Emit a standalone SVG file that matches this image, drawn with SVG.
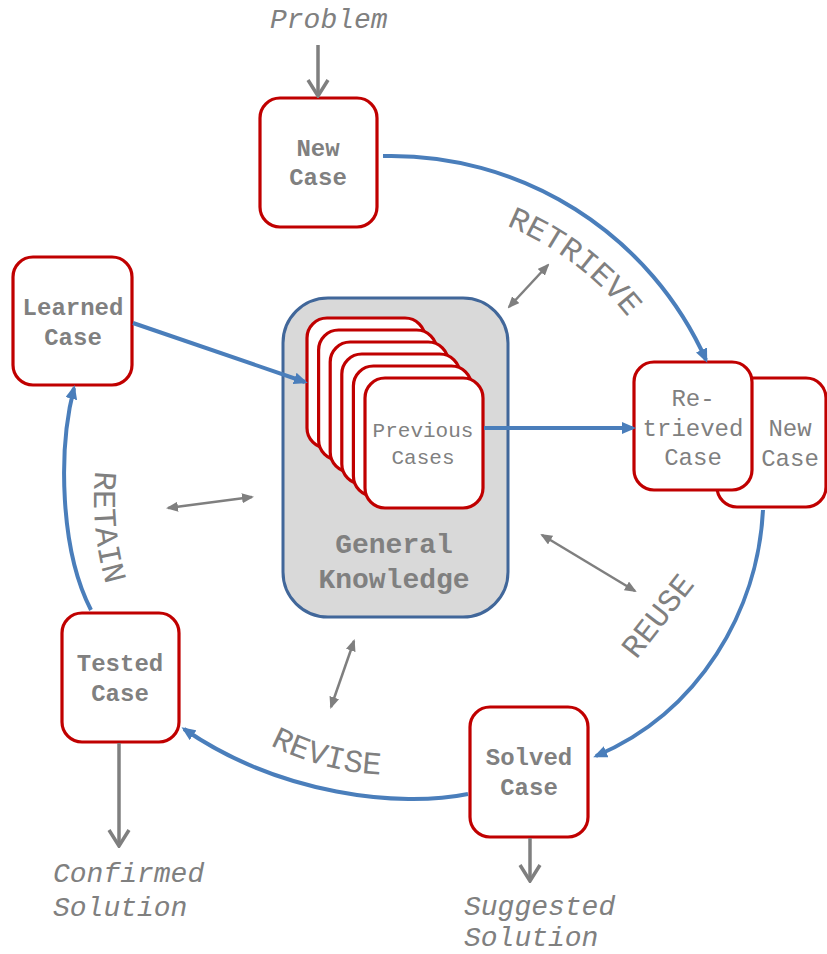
<svg xmlns="http://www.w3.org/2000/svg" width="827" height="954" viewBox="0 0 827 954">
<style>
.box{fill:#fff;stroke:#c00000;stroke-width:3.2}
.gk{fill:#d9d9d9;stroke:#41679a;stroke-width:3}
.t{font-family:"Liberation Mono","DejaVu Sans Mono",monospace;fill:#808080;text-anchor:middle}
.b{font-weight:bold;font-size:24px}
.r{font-size:24px}
.it{font-family:"Liberation Mono","DejaVu Sans Mono",monospace;font-style:italic;font-size:28px;fill:#808080}
.lbl{font-family:"Liberation Mono","DejaVu Sans Mono",monospace;font-size:32px;fill:#808080;text-anchor:middle}
.blue{fill:none;stroke:#4a7ebb;stroke-width:4;marker-end:url(#ba)}
.gray{fill:none;stroke:#7f7f7f;stroke-width:3.5;marker-end:url(#ga)}
.dbl{fill:none;stroke:#7f7f7f;stroke-width:2.5;marker-start:url(#da);marker-end:url(#da)}
</style>
<defs>
<marker id="ba" viewBox="0 0 14 12" refX="11" refY="6" markerWidth="14" markerHeight="12" markerUnits="userSpaceOnUse" orient="auto"><path d="M0,0 L14,6 L0,12 z" fill="#4a7ebb"/></marker>
<marker id="ga" viewBox="0 0 20 24" refX="18" refY="12" markerWidth="20" markerHeight="24" markerUnits="userSpaceOnUse" orient="auto"><path d="M2,2 L18,12 L2,22" fill="none" stroke="#7f7f7f" stroke-width="3.5"/></marker>
<marker id="da" viewBox="0 0 12 10" refX="10" refY="5" markerWidth="12" markerHeight="10" markerUnits="userSpaceOnUse" orient="auto-start-reverse"><path d="M0,0 L12,5 L0,10 z" fill="#7f7f7f"/></marker>
<path id="pRetrieve" d="M431.1,206.2 A296,296 0 0 1 667.5,384.3"/>
<path id="pRetain" d="M121.3,374.7 A301,301 0 0 0 149.7,674.4"/>
<path id="pRevise" d="M200.5,694.5 A275,275 0 0 0 466.2,765.6"/>
</defs>

<g id="general_knowledge">
<rect class="gk" x="283" y="298" width="225" height="319" rx="45"/>
<text class="t" x="394" y="553" style="font-weight:bold;font-size:28px">General</text>
<text class="t" x="394" y="588" style="font-weight:bold;font-size:28px">Knowledge</text>
</g>
<g id="previous_cases">
<rect class="box" x="307" y="318" width="118" height="130" rx="20"/>
<rect class="box" x="318.6" y="330" width="118" height="130" rx="20"/>
<rect class="box" x="330.2" y="342" width="118" height="130" rx="20"/>
<rect class="box" x="341.8" y="354" width="118" height="130" rx="20"/>
<rect class="box" x="353.4" y="366" width="118" height="130" rx="20"/>
<rect class="box" x="365" y="378" width="118" height="130" rx="20"/>
<text class="t" x="423" y="437" style="font-size:21px">Previous</text>
<text class="t" x="423" y="464" style="font-size:21px">Cases</text>
</g>
<g id="new_case">
<rect class="box" x="260" y="98" width="117" height="129" rx="20"/>
<text class="t b" x="318" y="156">New</text>
<text class="t b" x="318" y="185">Case</text>
</g>
<g id="learned_case">
<rect class="box" x="13" y="257" width="119" height="128" rx="20"/>
<text class="t b" x="73" y="315">Learned</text>
<text class="t b" x="73" y="345">Case</text>
</g>
<g id="new_case_right">
<rect class="box" x="717" y="378" width="109" height="129" rx="20"/>
<text class="t r" x="790" y="436">New</text>
<text class="t r" x="790" y="466">Case</text>
</g>
<g id="retrieved_case">
<rect class="box" x="634" y="362" width="118" height="128" rx="20"/>
<text class="t r" x="693" y="406">Re-</text>
<text class="t r" x="693" y="436">trieved</text>
<text class="t r" x="693" y="465">Case</text>
</g>
<g id="solved_case">
<rect class="box" x="470" y="707" width="118" height="130" rx="20"/>
<text class="t b" x="529" y="765">Solved</text>
<text class="t b" x="529" y="795">Case</text>
</g>
<g id="tested_case">
<rect class="box" x="62" y="613" width="117" height="129" rx="20"/>
<text class="t b" x="120" y="671">Tested</text>
<text class="t b" x="120" y="701">Case</text>
</g>

<g id="io_texts">
<text class="it" x="270" y="28">Problem</text>
<text class="it" x="53" y="882">Confirmed</text>
<text class="it" x="53" y="916">Solution</text>
<text class="it" x="464" y="915">Suggested</text>
<text class="it" x="464" y="946">Solution</text>
</g>

<g id="connectors">
<path class="blue" d="M383,156 A345,345 0 0 1 706,360"/>
<path class="blue" d="M763,510 C758,610 700,712 596,756"/>
<path class="blue" d="M468,794 C400,808 280,795 184,729"/>
<path class="blue" d="M91,610 C60,550 58,450 74,388"/>
<path class="blue" d="M133,323 L305,382"/>
<path class="blue" d="M484,428 L633,428"/>
<path class="gray" d="M318,45 L318,96"/>
<path class="gray" d="M119,743 L119,846"/>
<path class="gray" d="M530,838 L530,881"/>
<path class="dbl" d="M509,307 L548,265"/>
<path class="dbl" d="M168,508 L252,497"/>
<path class="dbl" d="M331,707 L354,641"/>
<path class="dbl" d="M542,535 L635,591"/>
</g>

<g id="phase_labels">
<text class="lbl"><textPath href="#pRetrieve" startOffset="50%">RETRIEVE</textPath></text>
<text class="lbl"><textPath href="#pRetain" startOffset="50%">RETAIN</textPath></text>
<text class="lbl"><textPath href="#pRevise" startOffset="50%">REVISE</textPath></text>
<text class="lbl" transform="translate(658,616) rotate(-52)" y="10">REUSE</text>
</g>
</svg>
